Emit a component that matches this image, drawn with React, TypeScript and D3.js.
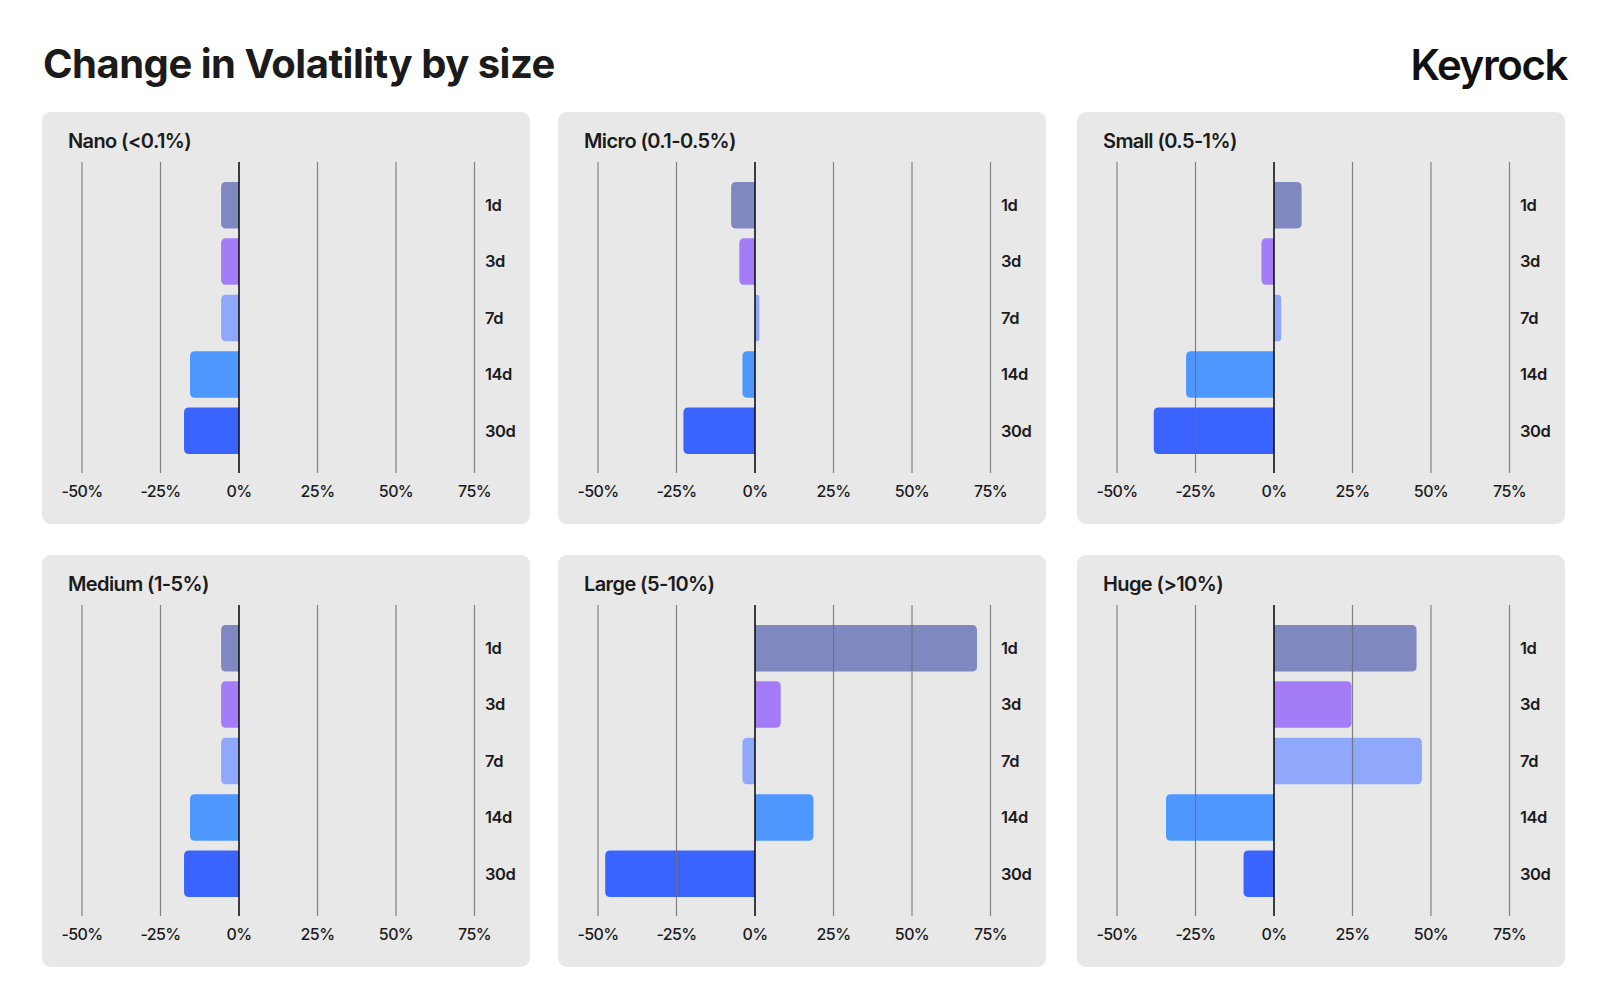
import React, { useEffect, useRef } from 'react';
import * as d3 from 'd3';

// Horizons shown on every panel, top to bottom
const horizons = ['1d', '3d', '7d', '14d', '30d'];

// Panel titles, reading order
const panelTitles = ['Nano (<0.1%)', 'Micro (0.1-0.5%)', 'Small (0.5-1%)', 'Medium (1-5%)', 'Large (5-10%)', 'Huge (>10%)'];

// Change in volatility, % (1d, 3d, 7d, 14d, 30d)
const nanoValues = [-5.7, -5.7, -5.7, -15.6, -17.5];
const microValues = [-7.6, -5.0, 1.4, -4.0, -22.8];
const smallValues = [8.8, -4.0, 2.3, -28.0, -38.3];
const mediumValues = [-5.7, -5.7, -5.7, -15.6, -17.5];
const largeValues = [70.7, 8.2, -4.0, 18.6, -47.7];
const hugeValues = [45.4, 24.7, 47.1, -34.4, -9.7];

const seriesValues = [nanoValues, microValues, smallValues, mediumValues, largeValues, hugeValues];

const xTicks = [-50, -25, 0, 25, 50, 75];

const horizonColors = ['#8088c2', '#a47cf8', '#8fa8fc', '#4e97ff', '#3a63ff'];

const FONT = 'Inter, "Noto Sans", sans-serif';

// bar with rounded corners on the value end only
function barPath(x0: number, x1: number, y: number, h: number, r: number) {
  const w = Math.abs(x1 - x0);
  const rr = Math.min(r, w / 2, h / 2);
  if (x1 >= x0) {
    return `M${x0},${y}H${x1 - rr}Q${x1},${y} ${x1},${y + rr}V${y + h - rr}Q${x1},${y + h} ${x1 - rr},${y + h}H${x0}Z`;
  }
  return `M${x0},${y}H${x1 + rr}Q${x1},${y} ${x1},${y + rr}V${y + h - rr}Q${x1},${y + h} ${x1 + rr},${y + h}H${x0}Z`;
}

const App: React.FC = () => {
  const svgRef = useRef<SVGSVGElement>(null);

  useEffect(() => {
    if (!svgRef.current) return;
    const svg = d3.select(svgRef.current);
    svg.selectAll('*').remove();

    svg.append('rect').attr('width', 1600).attr('height', 1002).attr('fill', '#ffffff');

    svg.append('text')
      .attr('x', 43)
      .attr('y', 78)
      .attr('fill', '#1b1b1b')
      .style('font-family', FONT)
      .style('font-size', '40px')
      .style('font-weight', 700)
      .style('letter-spacing', '-0.5px')
      .text('Change in Volatility by size');

    svg.append('text')
      .attr('x', 1567)
      .attr('y', 80)
      .attr('text-anchor', 'end')
      .attr('fill', '#111111')
      .style('font-family', FONT)
      .style('font-size', '42px')
      .style('font-weight', 600)
      .style('letter-spacing', '-1.4px')
      .text('Keyrock');

    const panelX = [42, 558, 1077];
    const panelY = [112, 555];
    const panelW = 488;
    const panelH = 412;

    const x = d3.scaleLinear().domain([-50, 75]).range([40, 432.5]);
    const y = d3.scaleBand<string>()
      .domain(horizons)
      .range([65, 347])
      .paddingInner(0.175)
      .paddingOuter(0.0875);

    seriesValues.forEach((values, i) => {
      const g = svg.append('g')
        .attr('transform', `translate(${panelX[i % 3]},${panelY[Math.floor(i / 3)]})`);

      g.append('rect')
        .attr('width', panelW)
        .attr('height', panelH)
        .attr('rx', 9)
        .attr('fill', '#e8e8e8');

      g.append('text')
        .attr('x', 26)
        .attr('y', 36)
        .attr('fill', '#1b1b1b')
        .style('font-family', FONT)
        .style('font-size', '20px')
        .style('font-weight', 600)
        .style('letter-spacing', '-0.6px')
        .text(panelTitles[i]);

      // bars
      g.selectAll('path.bar')
        .data(values)
        .enter()
        .append('path')
        .attr('class', 'bar')
        .attr('d', (v, j) => barPath(x(0), x(v), y(horizons[j])!, y.bandwidth(), 5))
        .attr('fill', (_, j) => horizonColors[j]);

      // gridlines over the bars
      g.selectAll('line.grid')
        .data(xTicks.filter(t => t !== 0))
        .enter()
        .append('line')
        .attr('class', 'grid')
        .attr('x1', d => x(d))
        .attr('x2', d => x(d))
        .attr('y1', 50)
        .attr('y2', 361)
        .attr('stroke', '#6f6f6f')
        .attr('stroke-opacity', 0.85)
        .attr('stroke-width', 1.2);

      g.append('line')
        .attr('x1', x(0))
        .attr('x2', x(0))
        .attr('y1', 50)
        .attr('y2', 361)
        .attr('stroke', '#111111')
        .attr('stroke-width', 1.6);

      g.selectAll('text.tick')
        .data(xTicks)
        .enter()
        .append('text')
        .attr('class', 'tick')
        .attr('x', d => x(d))
        .attr('y', 385)
        .attr('text-anchor', 'middle')
        .attr('fill', '#1b1b1b')
        .style('font-family', FONT)
        .style('font-size', '16px')
        .style('font-weight', 500)
        .style('letter-spacing', '-0.6px')
        .text(d => `${d}%`);

      g.selectAll('text.cat')
        .data(horizons)
        .enter()
        .append('text')
        .attr('class', 'cat')
        .attr('x', 443)
        .attr('y', d => y(d)! + y.bandwidth() / 2)
        .attr('dy', '0.35em')
        .attr('fill', '#1b1b1b')
        .style('font-family', FONT)
        .style('font-size', '16.5px')
        .style('font-weight', 600)
        .style('letter-spacing', '-0.5px')
        .text(d => d);
    });
  }, []);

  return (
    <div style={{ position: 'absolute', left: 0, top: 0 }}>
      <svg ref={svgRef} width={1600} height={1002} style={{ display: 'block' }}></svg>
    </div>
  );
};

export default App;
